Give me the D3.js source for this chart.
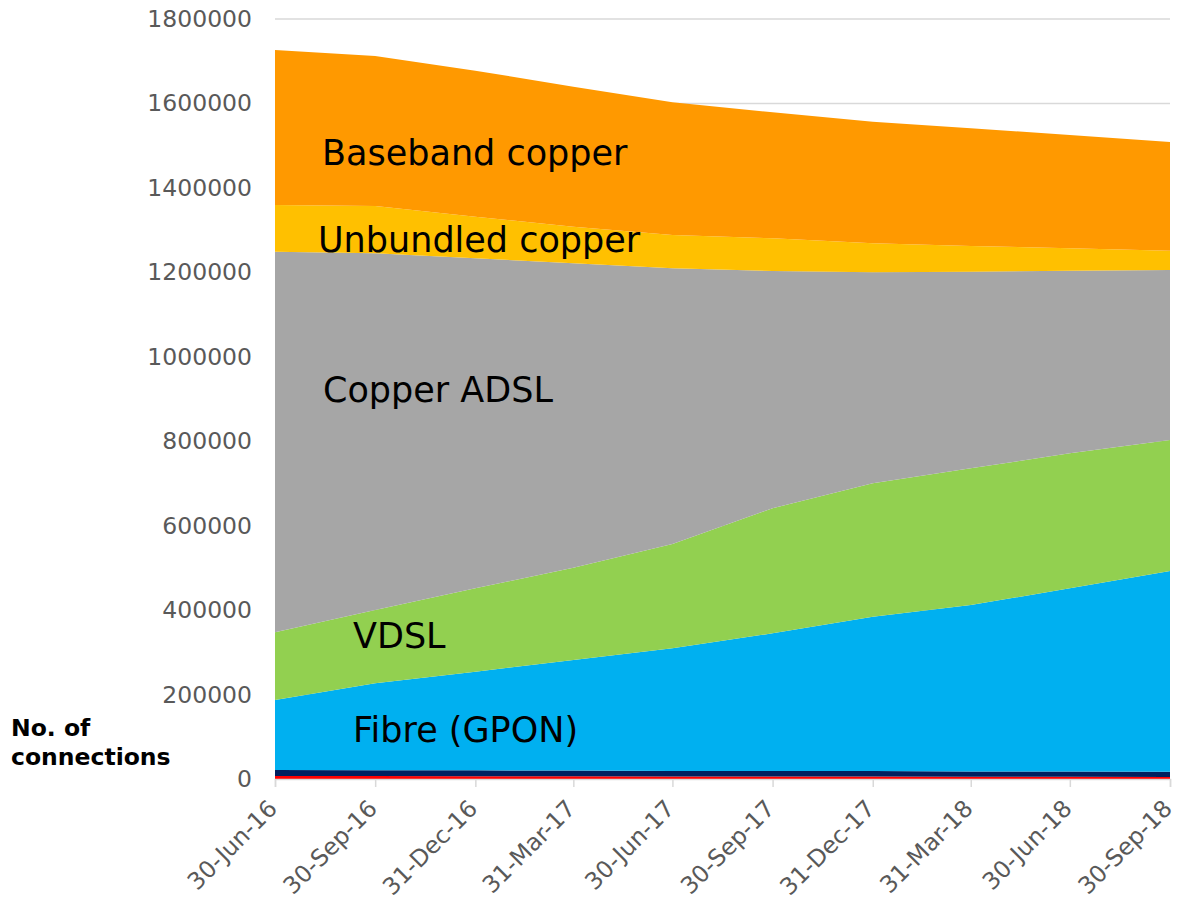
<!DOCTYPE html>
<html>
<head>
<meta charset="utf-8">
<script src="https://cdn.jsdelivr.net/npm/d3@7"></script>
<style>
  html, body { margin: 0; padding: 0; background: #fff; }
  svg { display: block; font-family: "DejaVu Sans", Verdana, sans-serif; }
</style>
</head>
<body>
<svg id="chart" width="1178" height="905"></svg>
<script>
// ---- Data ----
const dates = ["2016-06-30","2016-09-30","2016-12-31","2017-03-31","2017-06-30",
               "2017-09-30","2017-12-31","2018-03-31","2018-06-30","2018-09-30"];
const tickLabels = ["30-Jun-16","30-Sep-16","31-Dec-16","31-Mar-17","30-Jun-17",
                    "30-Sep-17","31-Dec-17","31-Mar-18","30-Jun-18","30-Sep-18"];
const seriesNames = ["Other (red)","Other (navy)","Fibre (GPON)","VDSL","Copper ADSL","Unbundled copper","Baseband copper"];
const otherRed   = [7000, 7000, 6500, 6500, 6000, 6000, 6000, 5500, 5500, 5000];
const otherNavy  = [14500, 14000, 14000, 13500, 13000, 13000, 13000, 12000, 12000, 12000];
const fibre      = [165600, 205600, 233600, 261800, 290500, 326000, 365400, 394600, 434100, 475600];
const vdsl       = [160300, 173700, 197500, 218700, 247100, 296100, 315900, 323800, 319800, 310300];
const adsl       = [901500, 844800, 781600, 720800, 652900, 562100, 499700, 465600, 432400, 402600];
const unbundled  = [110600, 111900, 98600, 86700, 78900, 77400, 68800, 60900, 53100, 45700];
const baseband   = [367100, 355400, 345800, 331600, 314300, 298400, 288000, 278700, 268400, 257500];
const yTicks = [0, 200000, 400000, 600000, 800000, 1000000, 1200000, 1400000, 1600000, 1800000];
const colors = ["#FF0000", "#002060", "#00B0F0", "#92D050", "#A6A6A6", "#FFC000", "#FF9900"];

const seriesValues = [otherRed, otherNavy, fibre, vdsl, adsl, unbundled, baseband];
const parse = d3.utcParse("%Y-%m-%d");
const table = dates.map((d, i) => {
  const row = { date: parse(d) };
  seriesNames.forEach((n, k) => row[n] = seriesValues[k][i]);
  return row;
});

// ---- Layout ----
const svg = d3.select("#chart");
const plotL = 275, plotR = 1170, plotT = 19, plotB = 779;

const x = d3.scaleUtc().domain([parse(dates[0]), parse(dates[dates.length - 1])]).range([plotL, plotR]);
const y = d3.scaleLinear().domain([0, 1800000]).range([plotB, plotT]);

// gridlines
svg.append("g")
  .selectAll("line")
  .data(yTicks)
  .join("line")
  .attr("x1", plotL).attr("x2", plotR)
  .attr("y1", d => y(d)).attr("y2", d => y(d))
  .attr("stroke", "#D9D9D9").attr("stroke-width", 1.5);

// stacked areas
const stack = d3.stack().keys(seriesNames);
const layers = stack(table);
const area = d3.area()
  .x(d => x(d.data.date))
  .y0(d => y(d[0]))
  .y1(d => y(d[1]));

svg.append("g")
  .selectAll("path")
  .data(layers)
  .join("path")
  .attr("d", area)
  .attr("fill", (d, i) => colors[i]);

// x axis line and ticks
const xAxis = d3.axisBottom(x)
  .tickValues(dates.map(parse))
  .tickSize(8)
  .tickFormat((d, i) => tickLabels[i]);
const gx = svg.append("g").attr("transform", `translate(0,${plotB})`).call(xAxis);
gx.select(".domain").attr("stroke", "#D9D9D9").attr("stroke-width", 1.5);
gx.selectAll(".tick line").attr("stroke", "#D9D9D9").attr("stroke-width", 1.5);
gx.selectAll(".tick text")
  .attr("font-family", "DejaVu Sans, Verdana, sans-serif")
  .attr("font-size", 23.5)
  .attr("fill", "#595959")
  .attr("text-anchor", "end")
  .attr("dy", null)
  .attr("y", null)
  .attr("transform", "translate(3,31) rotate(-45)");

// y axis labels
const yAxis = d3.axisLeft(y).tickValues(yTicks).tickSize(0).tickPadding(0).tickFormat(d3.format("d"));
const gy = svg.append("g").attr("transform", `translate(252,0)`).call(yAxis);
gy.select(".domain").remove();
gy.selectAll(".tick text")
  .attr("font-family", "DejaVu Sans, Verdana, sans-serif")
  .attr("font-size", 23.5)
  .attr("fill", "#595959");

// series labels
const labels = [
  { t: "Baseband copper",  x: 322, y: 165 },
  { t: "Unbundled copper", x: 318, y: 252 },
  { t: "Copper ADSL",      x: 323, y: 402 },
  { t: "VDSL",             x: 353, y: 648 },
  { t: "Fibre (GPON)",     x: 353, y: 742 }
];
svg.append("g")
  .selectAll("text")
  .data(labels)
  .join("text")
  .attr("x", d => d.x).attr("y", d => d.y)
  .attr("font-size", 35)
  .attr("fill", "#000")
  .text(d => d.t);

// axis title
const title = svg.append("text")
  .attr("x", 11).attr("y", 736)
  .attr("font-size", 23.5).attr("font-weight", "bold").attr("fill", "#000");
title.append("tspan").attr("x", 11).attr("y", 736).text("No. of");
title.append("tspan").attr("x", 11).attr("y", 765).text("connections");
</script>
</body>
</html>
